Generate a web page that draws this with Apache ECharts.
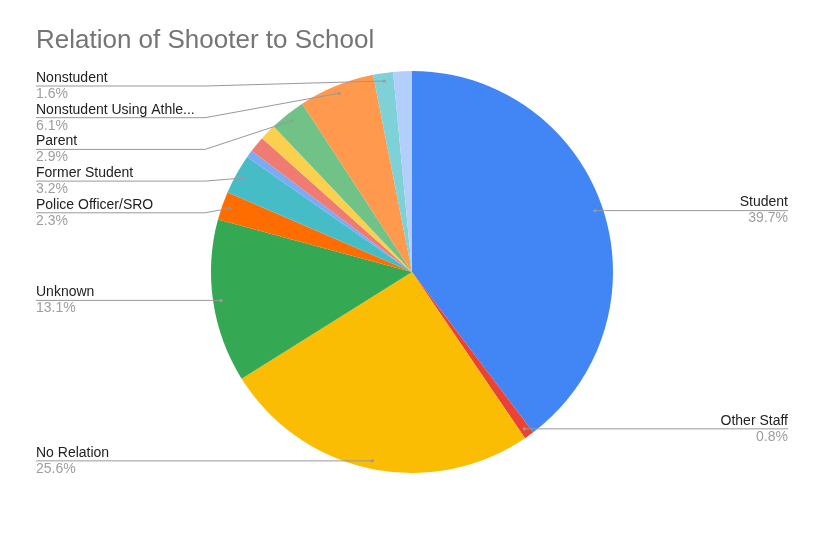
<!DOCTYPE html>
<html>
<head>
<meta charset="utf-8">
<title>Relation of Shooter to School</title>
<script src="https://cdn.jsdelivr.net/npm/echarts@6/dist/echarts.min.js"></script>
<style>
  html, body { margin: 0; padding: 0; background: #fff; }
  #main { width: 820px; height: 545px; }
</style>
</head>
<body>
<div id="main"></div>
<script>
// slices, clockwise from 12 o'clock
var names = ['Student', 'Other Staff', 'No Relation', 'Unknown', 'Police Officer/SRO', 'Former Student',
  'Unlabeled A', 'Unlabeled B', 'Unlabeled C', 'Parent', 'Nonstudent Using Athletic Facilities', 'Nonstudent', 'Unlabeled D'];
var values = [39.7, 0.8, 25.6, 13.1, 2.3, 3.2, 0.6, 1.3, 1.3, 2.9, 6.1, 1.6, 1.5];
// the thin slices carry no label in the original
var showLabel = [true, true, true, true, true, true, false, false, false, true, true, true, false];
var colors = ['#4285F4', '#EA4335', '#FBBC04', '#34A853', '#FF6D01', '#46BDC6',
  '#7BAAF7', '#F07B72', '#FCD04F', '#71C287', '#FF994D', '#7ED1D7', '#B3CEFB'];

var FONT = '"Liberation Sans", Arial, sans-serif';
var W = 820;
var CX = 412, CY = 272, R = 201, DOT_R = 193;
var EDGE_L = 36, EDGE_R = 32, COL_W = 169, ROW_H = 31.7;

// where each label's leader line starts (a dot inside its slice) and which side it sits on
var total = values.reduce(function (a, b) { return a + b; }, 0);
var dots = [], cum = 0;
values.forEach(function (v, i) {
  var a = (cum + v / 2) / total * Math.PI * 2;
  cum += v;
  dots.push({ i: i, x: CX + DOT_R * Math.sin(a), y: CY - DOT_R * Math.cos(a), left: Math.sin(a) < 0 });
});

// stack labels top-down on each side so they don't overlap (like the sheets chart does)
var labelY = [];
[true, false].forEach(function (side) {
  var list = dots.filter(function (d) { return d.left === side && showLabel[d.i]; })
    .sort(function (a, b) { return a.y - b.y; });
  var prev = CY - R + 15 - ROW_H;
  list.forEach(function (d) {
    var y = Math.max(d.y, prev + ROW_H);
    labelY[d.i] = y;
    prev = y;
  });
});

var slices = names.map(function (n, i) {
  return { name: n, value: values[i], itemStyle: { color: colors[i] } };
});
// same slices again, invisible, only to carry labels + leader lines above the coloured pie
var labelSlices = names.map(function (n, i) {
  var item = { name: n, value: values[i] };
  if (!showLabel[i]) {
    item.label = { show: false };
    item.labelLine = { show: false };
  }
  return item;
});

// little grey dot where each leader line starts
var dotMarks = dots.filter(function (d) { return showLabel[d.i]; }).map(function (d) {
  return {
    type: 'circle', z: 10, silent: true,
    shape: { cx: d.x, cy: d.y, r: 1.6 },
    style: { fill: '#999' }
  };
});

var myChart = echarts.init(document.getElementById('main'));
var option = {
  animation: false,
  backgroundColor: '#fff',
  title: {
    text: 'Relation of Shooter to School',
    left: 36,
    top: 28,
    padding: 0,
    textStyle: { fontFamily: FONT, fontSize: 26, fontWeight: 'normal', color: '#757575' }
  },
  graphic: dotMarks,
  series: [{
    type: 'pie',
    center: [CX, CY],
    radius: [0, R],
    startAngle: 90,
    clockwise: true,
    data: slices,
    itemStyle: { borderWidth: 0 },
    emphasis: { disabled: true },
    label: { show: false },
    labelLine: { show: false }
  }, {
    type: 'pie',
    z: 3,
    silent: true,
    center: [CX, CY],
    radius: [0, R],
    startAngle: 90,
    clockwise: true,
    data: labelSlices,
    itemStyle: { color: 'rgba(0,0,0,0)', borderWidth: 0 },
    emphasis: { disabled: true },
    label: {
      show: true,
      position: 'outside',
      alignTo: 'edge',
      edgeDistance: EDGE_L,
      fontFamily: FONT,
      fontSize: 14,
      formatter: function (p) {
        var n = p.name.length > 22 ? p.name.slice(0, 22) + '...' : p.name;
        return '{n|' + n + '}\n{p|' + p.percent.toFixed(1) + '%}';
      },
      rich: {
        n: { fontFamily: FONT, fontSize: 14, color: '#222', lineHeight: 16 },
        p: { fontFamily: FONT, fontSize: 14, color: '#9e9e9e', lineHeight: 16 }
      }
    },
    labelLine: {
      show: true,
      length: 8,
      length2: 0,
      lineStyle: { color: '#999', width: 1 }
    },
    // line starts at a dot inside the slice, bends at the label column and runs under the name
    labelLayout: function (p) {
      var i = p.dataIndex;
      if (!showLabel[i]) return {};
      var d = dots[i];
      var ly = labelY[i];
      var x, bend, end, align;
      if (d.left) {
        x = EDGE_L; end = EDGE_L; align = 'left';
        bend = Math.min(EDGE_L + COL_W, d.x);
      } else {
        x = W - EDGE_R; end = W - EDGE_R; align = 'right';
        bend = Math.max(W - EDGE_R - COL_W, d.x);
      }
      return {
        x: x,
        y: ly,
        align: align,
        verticalAlign: 'middle',
        labelLinePoints: [[d.x, d.y], [bend, ly], [end, ly]]
      };
    }
  }]
};
myChart.setOption(option);
</script>
</body>
</html>
